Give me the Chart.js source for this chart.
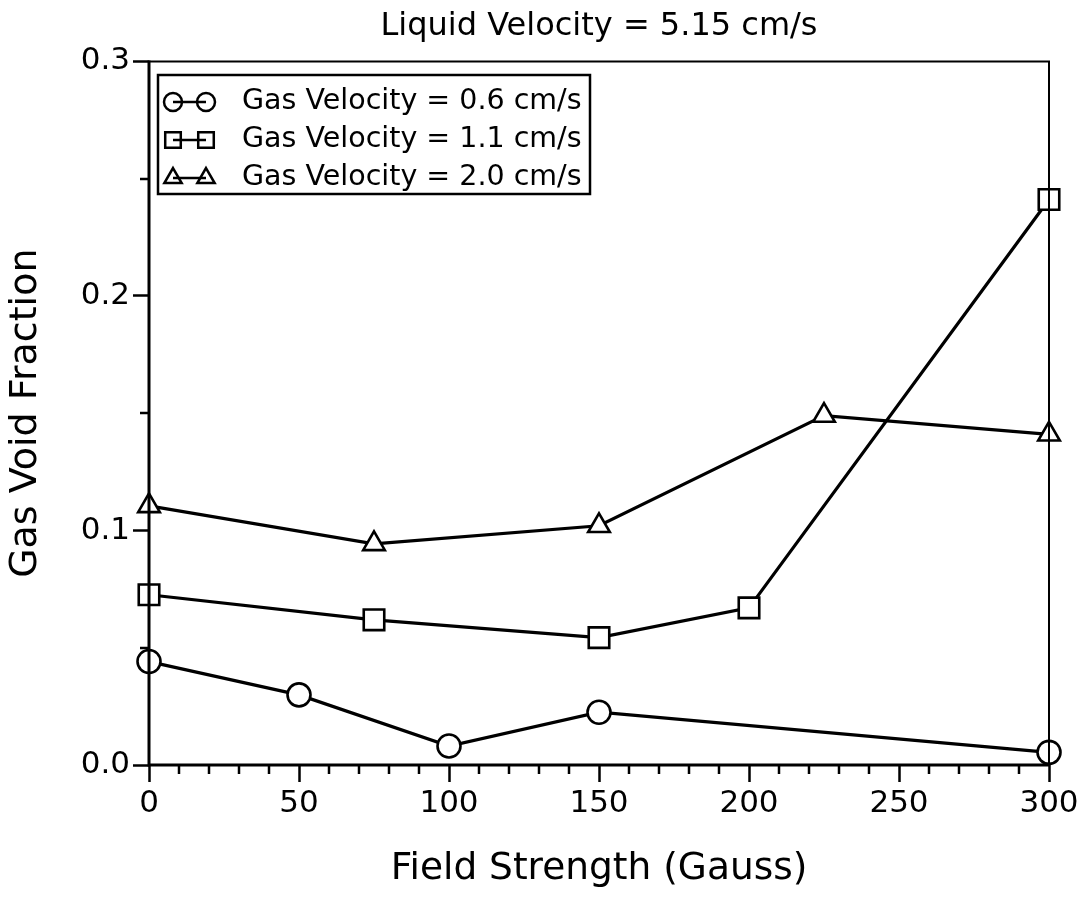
<!DOCTYPE html>
<html>
<head>
<meta charset="utf-8">
<script src="https://cdn.jsdelivr.net/npm/chart.js@4/dist/chart.umd.min.js"></script>
<style>
  html, body { margin: 0; padding: 0; background: #fff; }
  #grafico { display: block; }
</style>
</head>
<body>
<canvas id="grafico" width="1082" height="899"></canvas>
<script>
// dados (campo em Gauss, fração de vazio)
const campoCirculo = [0, 50, 100, 150, 300];
const vazioCirculo = [0.0441, 0.0299, 0.0081, 0.0225, 0.0054];

const campoQuadrado = [0, 75, 150, 200, 300];
const vazioQuadrado = [0.0726, 0.0619, 0.0543, 0.067, 0.2411];

const campoTriangulo = [0, 75, 150, 225, 300];
const vazioTriangulo = [0.1105, 0.0943, 0.102, 0.149, 0.141];

const rotulosSerie = [
    'Gas Velocity = 0.6 cm/s',
    'Gas Velocity = 1.1 cm/s',
    'Gas Velocity = 2.0 cm/s'
];

const FONTE = "'DejaVu Sans', sans-serif";

function pontos(xs, ys) {
    return xs.map((x, i) => ({ x: x, y: ys[i] }));
}

function serie(label, xs, ys, estilo, raio) {
    return {
        label: label,
        data: pontos(xs, ys),
        borderColor: '#000',
        borderWidth: 3.2,
        pointStyle: estilo,
        pointRadius: raio,
        pointBorderWidth: 2.6,
        pointBorderColor: '#000',
        pointBackgroundColor: '#fff',
        tension: 0,
        clip: false
    };
}

// ticks menores, moldura e legenda desenhados por cima
const pluginExtras = {
    id: 'extras',
    afterDatasetsDraw(chart) {
        const ctx = chart.ctx;
        const area = chart.chartArea;
        const sx = chart.scales.x, sy = chart.scales.y;
        ctx.save();
        ctx.strokeStyle = '#000';
        ctx.lineCap = 'butt';

        // ticks menores
        ctx.lineWidth = 2.5;
        for (let v = 10; v < 300; v += 10) {
            if (v % 50 === 0) continue;
            const px = Math.round(sx.getPixelForValue(v));
            ctx.beginPath();
            ctx.moveTo(px, area.bottom);
            ctx.lineTo(px, area.bottom + 9);
            ctx.stroke();
        }
        [0.05, 0.15, 0.25].forEach(v => {
            const py = Math.round(sy.getPixelForValue(v));
            ctx.beginPath();
            ctx.moveTo(area.left, py);
            ctx.lineTo(area.left - 9, py);
            ctx.stroke();
        });

        // moldura
        ctx.lineWidth = 2;
        ctx.beginPath();
        ctx.moveTo(area.left, area.top);
        ctx.lineTo(area.right, area.top);
        ctx.lineTo(area.right, area.bottom);
        ctx.stroke();
        ctx.lineWidth = 3;
        ctx.beginPath();
        ctx.moveTo(area.left, area.top - 1);
        ctx.lineTo(area.left, area.bottom);
        ctx.lineTo(area.right + 1, area.bottom);
        ctx.stroke();

        // legenda
        const caixa = { x: 158, y: 75, w: 432, h: 119 };
        ctx.fillStyle = '#fff';
        ctx.fillRect(caixa.x, caixa.y, caixa.w, caixa.h);
        ctx.lineWidth = 2.5;
        ctx.strokeRect(caixa.x, caixa.y, caixa.w, caixa.h);
        const raiosLegenda = [9, 11, 10];
        chart.data.datasets.forEach((ds, i) => {
            const yl = 102 + i * 38;
            ctx.lineWidth = 2.5;
            ctx.beginPath();
            ctx.moveTo(173, yl);
            ctx.lineTo(206, yl);
            ctx.stroke();
            ctx.fillStyle = 'rgba(0,0,0,0)';
            [173, 206].forEach(xl => {
                Chart.helpers.drawPoint(ctx, {
                    pointStyle: ds.pointStyle,
                    radius: raiosLegenda[i],
                    rotation: 0,
                    borderWidth: 2.5
                }, xl, yl);
            });
            ctx.fillStyle = '#000';
            ctx.font = "28.5px " + FONTE;
            ctx.textBaseline = 'middle';
            ctx.textAlign = 'left';
            ctx.fillText(ds.label, 242, yl);
        });
        ctx.restore();
    }
};

new Chart(document.getElementById('grafico'), {
    type: 'line',
    data: {
        datasets: [
            serie(rotulosSerie[0], campoCirculo, vazioCirculo, 'circle', 11.5),
            serie(rotulosSerie[1], campoQuadrado, vazioQuadrado, 'rect', 14.5),
            serie(rotulosSerie[2], campoTriangulo, vazioTriangulo, 'triangle', 12.5)
        ]
    },
    options: {
        responsive: false,
        animation: false,
        devicePixelRatio: 1,
        layout: { padding: { left: 0, right: 33, top: 0, bottom: 0 } },
        plugins: {
            legend: { display: false },
            tooltip: { enabled: false },
            title: {
                display: true,
                fullSize: false,
                text: 'Liquid Velocity = 5.15 cm/s',
                color: '#000',
                font: { family: FONTE, size: 32, weight: 'normal' },
                padding: { top: 7, bottom: 16 }
            }
        },
        scales: {
            x: {
                type: 'linear',
                min: 0,
                max: 300,
                ticks: {
                    stepSize: 50,
                    color: '#000',
                    padding: 3,
                    font: { family: FONTE, size: 31 }
                },
                grid: {
                    drawOnChartArea: false,
                    drawTicks: true,
                    tickLength: 17,
                    tickWidth: 2.5,
                    tickColor: '#000'
                },
                border: { display: false },
                title: {
                    display: true,
                    text: 'Field Strength (Gauss)',
                    color: '#000',
                    font: { family: FONTE, size: 37.5 },
                    padding: { top: 0, bottom: 7 }
                },
                afterFit(escala) { escala.height = 134; }
            },
            y: {
                type: 'linear',
                min: 0,
                max: 0.3,
                ticks: {
                    stepSize: 0.1,
                    color: '#000',
                    padding: 3,
                    font: { family: FONTE, size: 31 },
                    callback: v => v.toFixed(1)
                },
                grid: {
                    drawOnChartArea: false,
                    drawTicks: true,
                    tickLength: 16,
                    tickWidth: 2.5,
                    tickColor: '#000'
                },
                border: { display: false },
                title: {
                    display: true,
                    text: 'Gas Void Fraction',
                    color: '#000',
                    font: { family: FONTE, size: 38 },
                    padding: { top: 3, bottom: 0 }
                },
                afterFit(escala) { escala.width = 149; }
            }
        }
    },
    plugins: [pluginExtras]
});
</script>
</body>
</html>
